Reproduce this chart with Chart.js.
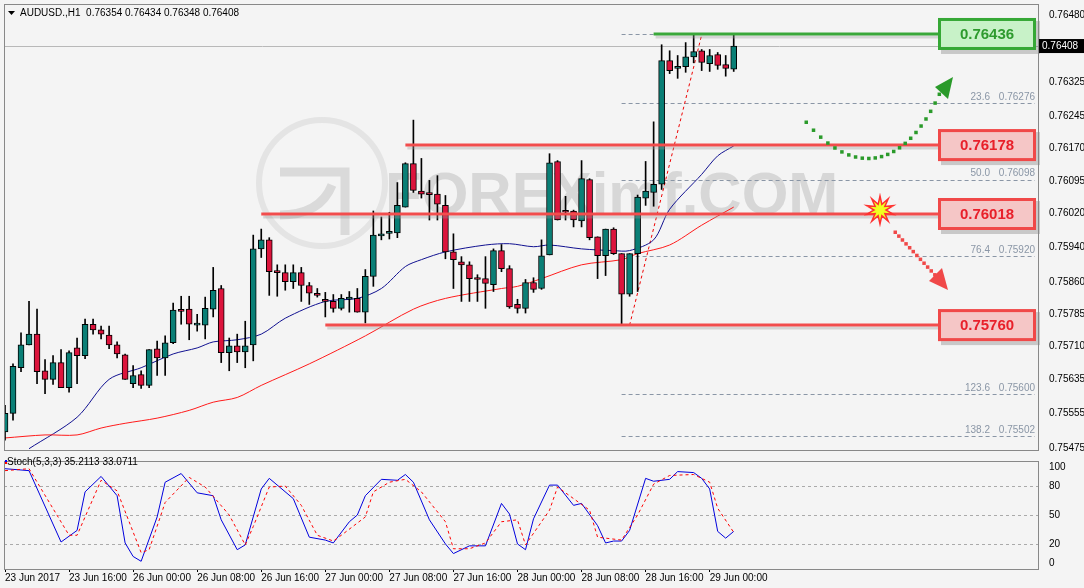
<!DOCTYPE html>
<html><head><meta charset="utf-8">
<script src="https://cdn.jsdelivr.net/npm/chart.js@4"></script>
<style>
html,body{margin:0;padding:0;background:#f4f4f4;width:1084px;height:588px;overflow:hidden;font-family:"Liberation Sans",Arial,sans-serif}
#w{position:absolute;left:0;top:0;width:1084px;height:588px}
#c1{position:absolute;left:0;top:0}
#c2{position:absolute;left:0;top:452px}
</style></head><body><div id="w">
<canvas id="c1" width="1084" height="459"></canvas>
<canvas id="c2" width="1084" height="136"></canvas>
</div>
<script>
const opens=[0.75512,0.75555,0.75661,0.75714,0.75739,0.75654,0.75634,0.75673,0.75615,0.75707,0.75689,0.75762,0.75749,0.75737,0.75714,0.75691,0.75624,0.75645,0.75620,0.75705,0.75684,0.75719,0.75795,0.75797,0.75760,0.75760,0.75797,0.75845,0.75696,0.75712,0.75698,0.75714,
0.75937,0.75958,0.75884,0.75882,0.75861,0.75882,0.75852,0.75834,0.75816,0.75815,0.75799,0.75820,0.75822,0.75790,0.75873,0.75967,0.75973,0.75974,0.76034,0.76135,0.76071,0.76064,0.76064,0.76038,0.75930,0.75907,0.75900,0.75868,0.75868,0.75854,0.75933,0.75891,0.75808,0.75799,0.75859,0.75845,0.75923,0.76140,0.76025,0.76025,0.76002,0.76098,0.75965,0.75921,0.75983,0.75926,0.75832,0.75926,0.76055,0.76068,0.76087,0.76374,0.76356,0.76360,0.76383,0.76397,0.76367,0.76388,0.76365,0.76354];
const highs=[0.75574,0.75670,0.75742,0.75815,0.75797,0.75680,0.75689,0.75703,0.75700,0.75730,0.75774,0.75774,0.75758,0.75758,0.75721,0.75693,0.75666,0.75654,0.75703,0.75723,0.75735,0.75811,0.75827,0.75827,0.75785,0.75825,0.75894,0.75852,0.75730,0.75739,0.75769,0.75969,
0.75983,0.75963,0.75900,0.75900,0.75900,0.75894,0.75859,0.75845,0.75836,0.75831,0.75831,0.75838,0.75845,0.75889,0.76025,0.76011,0.76022,0.76091,0.76137,0.76236,0.76147,0.76096,0.76107,0.76061,0.75972,0.75919,0.75907,0.75877,0.75919,0.75937,0.75947,0.75898,0.75820,0.75866,0.75870,0.75958,0.76158,0.76142,0.76059,0.76027,0.76142,0.76100,0.75965,0.75983,0.75986,0.75926,0.75926,0.76062,0.76140,0.76232,0.76411,0.76397,0.76386,0.76416,0.76434,0.76400,0.76400,0.76393,0.76386,0.76434];
const lows=[0.75493,0.75539,0.75652,0.75714,0.75624,0.75601,0.75622,0.75615,0.75604,0.75624,0.75682,0.75739,0.75728,0.75705,0.75684,0.75634,0.75615,0.75613,0.75615,0.75643,0.75643,0.75717,0.75762,0.75726,0.75746,0.75728,0.75779,0.75673,0.75654,0.75673,0.75661,0.75677,
0.75917,0.75829,0.75827,0.75841,0.75845,0.75815,0.75808,0.75825,0.75779,0.75790,0.75795,0.75790,0.75790,0.75765,0.75850,0.75958,0.75960,0.75963,0.76034,0.76068,0.76055,0.76004,0.76004,0.75914,0.75845,0.75815,0.75815,0.75815,0.75799,0.75838,0.75884,0.75799,0.75788,0.75788,0.75836,0.75843,0.75923,0.76004,0.76004,0.75988,0.75988,0.75958,0.75868,0.75875,0.75924,0.75760,0.75827,0.75838,0.76038,0.76036,0.76075,0.76344,0.76333,0.76347,0.76369,0.76351,0.76349,0.76354,0.76338,0.76349];
const closes=[0.75555,0.75664,0.75714,0.75739,0.75652,0.75634,0.75673,0.75615,0.75696,0.75689,0.75762,0.75749,0.75739,0.75714,0.75693,0.75634,0.75643,0.75620,0.75703,0.75684,0.75719,0.75795,0.75792,0.75762,0.75762,0.75799,0.75841,0.75696,0.75712,0.75698,0.75712,0.75937,
0.75958,0.75884,0.75882,0.75861,0.75882,0.75852,0.75834,0.75829,0.75815,0.75799,0.75822,0.75825,0.75790,0.75873,0.75969,0.75972,0.75974,0.76038,0.76135,0.76073,0.76064,0.76063,0.76041,0.75930,0.75912,0.75900,0.75868,0.75866,0.75857,0.75933,0.75891,0.75802,0.75799,0.75859,0.75843,0.75921,0.76137,0.76004,0.76022,0.76004,0.76100,0.75963,0.75921,0.75983,0.75926,0.75832,0.75926,0.76057,0.76071,0.76087,0.76374,0.76351,0.76360,0.76383,0.76395,0.76370,0.76386,0.76363,0.76356,0.76408];
const maFastIdx=[3,9,13,17,21,24,26,29,32,35,40,44,47,50,52,55,60,63,66,68,72,76,78,81,83,87,89,91];
const maFastVal=[0.75473,0.75546,0.75634,0.75661,0.75693,0.75707,0.75721,0.75726,0.75739,0.75776,0.75815,0.75822,0.75845,0.75896,0.75912,0.75930,0.75946,0.75949,0.75942,0.75946,0.75937,0.75933,0.75933,0.75958,0.76029,0.76110,0.76153,0.76176];
const maSlowIdx=[0,5,9,12,15,19,23,26,29,32,38,45,51,55,62,64,67,72,77,79,83,87,91];
const maSlowVal=[0.75498,0.75505,0.75505,0.75521,0.75532,0.75544,0.75562,0.75581,0.75592,0.75620,0.75670,0.75735,0.75797,0.75822,0.75845,0.75850,0.75868,0.75900,0.75912,0.75926,0.75946,0.75992,0.76034];
const stochKIdx=[0,3,7,9,10,12,14,15,16,17,19,20,22,24,26,27,29,30,32,33,36,38,40,41,43,44,45,47,49,50,51,53,55,56,58,60,62,63,64,65,66,68,69,71,72,74,75,76,77,78,80,81,83,84,86,87,88,89,90,91];
const stochKVal=[98,96,22,34,74,90,70,21,7,2,48,84,93,73,70,45,14,19,77,88,67,27,24,21,43,50,70,87,86,92,84,45,20,10,18,18,62,51,20,14,46,81,81,60,62,39,21,23,23,34,88,85,87,95,94,88,77,33,26,33];
const stochDIdx=[0,3,8,9,12,14,17,18,20,23,25,28,30,31,33,35,37,39,41,42,45,46,48,50,52,55,56,58,60,62,64,65,68,69,71,73,74,77,79,81,83,86,88,89,91];
const stochDVal=[96,98,29,29,86,75,11,14,63,89,79,50,19,38,79,80,60,29,23,29,48,74,84,87,74,43,15,15,21,43,45,19,55,79,67,55,27,24,50,82,91,92,84,57,32];
const timeLabels=["23 Jun 2017","23 Jun 16:00","26 Jun 00:00","26 Jun 08:00","26 Jun 16:00","27 Jun 00:00","27 Jun 08:00","27 Jun 16:00","28 Jun 00:00","28 Jun 08:00","28 Jun 16:00","29 Jun 00:00"];
const priceTicks=[0.76480,0.76408,0.76325,0.76245,0.76170,0.76095,0.76020,0.75940,0.75860,0.75785,0.75710,0.75635,0.75555,0.75475];
const levelsRed=[0.76178,0.76018,0.75760];
const levelRedStart=[50,32,40];
const levelGreen=0.76436, levelGreenStart=81;
const fibLevels=[0.76276,0.76098,0.75920,0.75600,0.75502];
const fibNames=["23.6","50.0","76.4","123.6","138.2"];
const stochLevels=[100,80,50,20,0];

const XMIN=-0.125, XMAX=129;
const UP='#0a7f76', DN='#dc143c';
const bodies=opens.map((o,i)=>({x:i,y:[o,closes[i]]}));
const wicks=lows.map((l,i)=>({x:i,y:[l,highs[i]]}));
const colors=opens.map((o,i)=>closes[i]>=o?UP:DN);
const FONT='"Liberation Sans", Arial, sans-serif';

const overlay={id:'overlay',
beforeDatasetsDraw(ch){
  const c=ch.ctx,a=ch.chartArea,y=ch.scales.y,x=ch.scales.x;
  c.save();
  c.globalAlpha=0.18;
  c.strokeStyle='#999';c.lineWidth=6;
  c.beginPath();c.arc(322,183,63,0,Math.PI*2);c.stroke();
  c.fillStyle='#555';c.font='bold 60px '+FONT;c.textBaseline='middle';
  c.fillText('FOREXimf.COM',385,197);
  c.lineWidth=9;c.strokeStyle='#666';
  c.beginPath();c.moveTo(280,172);c.lineTo(345,172);c.lineTo(345,235);c.stroke();
  c.beginPath();c.moveTo(280,215);c.quadraticCurveTo(320,215,332,185);c.stroke();
  c.globalAlpha=1;
  c.strokeStyle='#b8b8b8';c.lineWidth=1;
  c.beginPath();c.moveTo(a.left,Math.round(y.getPixelForValue(0.76408))+.5);c.lineTo(a.right,Math.round(y.getPixelForValue(0.76408))+.5);c.stroke();
  c.setLineDash([4,3]);c.strokeStyle='#8a96a6';
  const fx=x.getPixelForValue(77);
  const all=[levelGreen].concat(fibLevels);
  all.forEach(v=>{const py=Math.round(y.getPixelForValue(v))+.5;c.beginPath();c.moveTo(fx,py);c.lineTo(a.right-3,py);c.stroke();});
  c.setLineDash([]);
  c.font='10px '+FONT;c.fillStyle='#8a96a6';c.textAlign='right';c.textBaseline='bottom';
  fibLevels.forEach((v,i)=>{const py=y.getPixelForValue(v);c.fillText(fibNames[i],a.right-48,py-1);c.fillText(v.toFixed(5),a.right-3,py-1);});
  c.strokeStyle='#e00';c.setLineDash([3,3]);c.beginPath();
  c.moveTo(x.getPixelForValue(78),y.getPixelForValue(0.75760));c.lineTo(x.getPixelForValue(87),y.getPixelForValue(0.76434));c.stroke();
  c.setLineDash([]);
  c.restore();
},
afterDatasetsDraw(ch){
  const c=ch.ctx,a=ch.chartArea,y=ch.scales.y,x=ch.scales.x;
  c.save();
  const drawLevel=(v,start,col,shadow)=>{const py=y.getPixelForValue(v);
    c.strokeStyle=shadow;c.lineWidth=3;c.globalAlpha=0.35;c.beginPath();c.moveTo(x.getPixelForValue(start)+2,py+3);c.lineTo(938,py+3);c.stroke();c.globalAlpha=1;
    c.strokeStyle=col;c.lineWidth=3;c.beginPath();c.moveTo(x.getPixelForValue(start),py);c.lineTo(938,py);c.stroke();};
  levelsRed.forEach((v,i)=>drawLevel(v,levelRedStart[i],'#f24d4d','#999'));
  drawLevel(levelGreen,levelGreenStart,'#3aa83a','#999');
  const box=(v,fill,border,txt)=>{const py=y.getPixelForValue(v);
    c.fillStyle='rgba(0,0,0,0.18)';c.fillRect(941,py-13,99,33);
    c.fillStyle=fill;c.fillRect(938,py-16,98,32);c.strokeStyle=border;c.lineWidth=3;c.strokeRect(939.5,py-14.5,95,29);
    c.fillStyle=txt;c.font='bold 15px '+FONT;c.textAlign='center';c.textBaseline='middle';c.fillText(v.toFixed(5),987,py+1);};
  box(levelGreen,'#c8f2c8','#36a836','#2d9a2d');
  levelsRed.forEach(v=>box(v,'#f5c6c6','#f04848','#e8202a'));
  c.fillStyle='#2a9a2a';
  for(let t=0;t<=1.0001;t+=0.045){const p0=[806,122],p1=[860,185],p2=[910,160],p3=[940,92];
    const u=1-t;const px=u*u*u*p0[0]+3*u*u*t*p1[0]+3*u*t*t*p2[0]+t*t*t*p3[0];const py=u*u*u*p0[1]+3*u*u*t*p1[1]+3*u*t*t*p2[1]+t*t*t*p3[1];
    c.fillRect(px-1.5,py-1.5,3.5,3.5);}
  c.beginPath();c.moveTo(953,77);c.lineTo(935,87);c.lineTo(948,99);c.closePath();c.fill();
  c.fillStyle='#f04848';
  for(let t=0;t<=1;t+=0.09){const px=895+t*(935-895),py=232+t*(275-232);c.fillRect(px-1.5,py-1.5,3.5,3.5);}
  c.beginPath();c.moveTo(948,290);c.lineTo(929,281);c.lineTo(942,268);c.closePath();c.fill();
  c.beginPath();const cx=880,cy=210;
  for(let k=0;k<20;k++){const ang=k*Math.PI/10-Math.PI/2;const r=k%2?6:14;c.lineTo(cx+r*Math.cos(ang),cy+r*Math.sin(ang));}
  c.closePath();c.fillStyle='#f0ff20';c.fill();c.strokeStyle='#ff3030';c.lineWidth=1.5;c.stroke();
  const py=y.getPixelForValue(0.76408);
  c.fillStyle='#000';c.fillRect(a.right+1,py-7,45,14);c.fillStyle='#fff';c.font='10px '+FONT;c.textAlign='left';c.textBaseline='middle';c.fillText('0.76408',a.right+4,py);
  c.fillStyle='#000';c.beginPath();c.moveTo(8,11);c.lineTo(15,11);c.lineTo(11.5,15);c.closePath();c.fill();
  c.font='10px '+FONT;c.textBaseline='middle';c.fillText('AUDUSD.,H1  0.76354 0.76434 0.76348 0.76408',20,13);
  c.strokeStyle='#888';c.lineWidth=1;c.strokeRect(4.5,4.5,a.right-4,a.bottom-4);
  c.restore();
}};

new Chart(document.getElementById('c1'),{
  type:'bar',
  data:{datasets:[
    {type:'line',data:maSlowIdx.map((v,i)=>({x:v,y:maSlowVal[i]})),borderColor:'#ff1a1a',borderWidth:1,pointRadius:0,tension:0.3,order:3},
    {type:'line',data:maFastIdx.map((v,i)=>({x:v,y:maFastVal[i]})),borderColor:'#101090',borderWidth:1,pointRadius:0,tension:0.3,order:3},
    {data:wicks,backgroundColor:'#000',barThickness:1,grouped:false,order:2},
    {data:bodies,backgroundColor:colors,borderColor:'#000',borderWidth:1,borderSkipped:false,barThickness:6,minBarLength:2,grouped:false,order:1}
  ]},
  options:{responsive:false,animation:false,events:[],
    layout:{padding:{top:2,left:4,bottom:0,right:0}},
    plugins:{legend:{display:false},tooltip:{enabled:false}},
    scales:{
      x:{type:'linear',min:XMIN,max:XMAX,offset:false,display:false},
      y:{position:'right',min:0.75470,max:0.76494,
        afterFit(s){s.width=46;},
        afterBuildTicks(s){s.ticks=priceTicks.map(v=>({value:v}));},
        grid:{display:false,drawTicks:true},border:{color:'#000'},
        ticks:{color:'#000',font:{size:10,family:FONT},padding:3,callback:(v)=>v===0.76408?'':v.toFixed(5)}}
    }},
  plugins:[overlay]
});

const sub={id:'sub',beforeDatasetsDraw(ch){const c=ch.ctx,a=ch.chartArea,y=ch.scales.y;c.save();
  c.setLineDash([3,3]);c.strokeStyle='#aaa';[80,50,20].forEach(v=>{const py=Math.round(y.getPixelForValue(v))+.5;c.beginPath();c.moveTo(a.left,py);c.lineTo(a.right,py);c.stroke();});
  c.setLineDash([]);c.strokeStyle='#888';c.strokeRect(4.5,a.top+.5,a.right-4,a.bottom-a.top);
  c.fillStyle='#000';c.font='10px '+FONT;c.textBaseline='middle';c.fillText('Stoch(5,3,3) 35.2113 33.0711',7,10);
  c.fillStyle='#00f';c.fillRect(5,8,2,2);c.fillStyle='#f00';c.fillRect(5,10,2,2);
  c.restore();}};

new Chart(document.getElementById('c2'),{
  type:'line',
  data:{datasets:[
    {data:stochDIdx.map((v,i)=>({x:v,y:stochDVal[i]})),borderColor:'#ff0000',borderDash:[3,3],borderWidth:1,pointRadius:0},
    {data:stochKIdx.map((v,i)=>({x:v,y:stochKVal[i]})),borderColor:'#0000dd',borderWidth:1,pointRadius:0}
  ]},
  options:{responsive:false,animation:false,events:[],
    layout:{padding:{top:3,left:4,bottom:0,right:0}},
    plugins:{legend:{display:false},tooltip:{enabled:false}},
    scales:{
      x:{type:'linear',min:XMIN,max:XMAX,afterFit(s){s.height=19;},
        afterBuildTicks(s){s.ticks=timeLabels.map((t,i)=>({value:i*8}));},
        grid:{display:true,drawOnChartArea:false,tickLength:3,color:'#000'},border:{color:'#000'},
        ticks:{color:'#000',font:{size:10,family:FONT},align:'start',maxRotation:0,autoSkip:false,padding:0,callback:(v,i)=>timeLabels[i]}},
      y:{position:'right',min:-6,max:106,afterFit(s){s.width=46;},
        afterBuildTicks(s){s.ticks=stochLevels.map(v=>({value:v}));},
        grid:{display:false},border:{color:'#000'},
        ticks:{color:'#000',font:{size:10,family:FONT},padding:3}}
    }},
  plugins:[sub]
});
</script></body></html>
